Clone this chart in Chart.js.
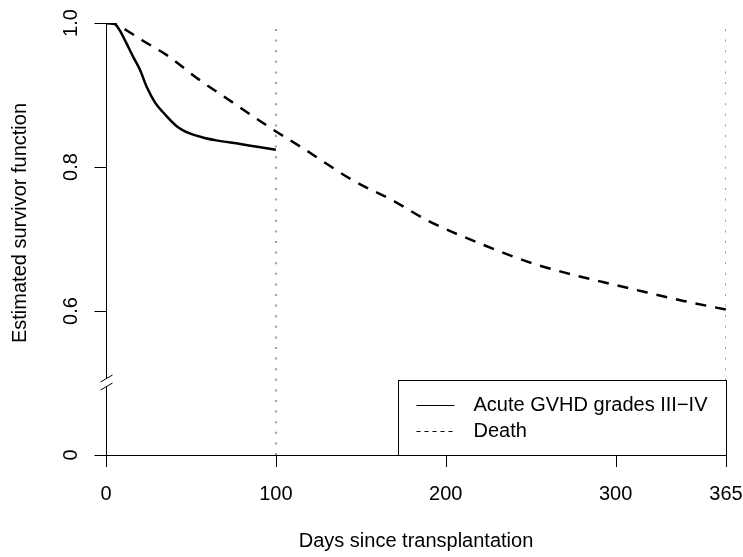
<!DOCTYPE html>
<html>
<head>
<meta charset="utf-8">
<script src="https://cdn.jsdelivr.net/npm/chart.js@4/dist/chart.umd.min.js"></script>
<style>
  html, body { margin: 0; padding: 0; background: #fff; }
  canvas { display: block; }
</style>
</head>
<body>
<canvas id="chart" width="743" height="557"></canvas>
<script>
// data
const gvhdDays = [0, 5, 8, 12, 16, 20, 24, 29, 34, 42, 49, 57, 65, 79, 89, 100];
const gvhdSurv = [1.0, 0.999, 0.990, 0.972, 0.953, 0.935, 0.911, 0.889, 0.875, 0.856, 0.847, 0.841, 0.837, 0.832, 0.828, 0.824];

const deathDays = [0, 6, 12, 22, 36, 55, 75, 97, 116, 145, 170, 189, 222, 250, 269, 300, 318, 340, 365];
const deathSurv = [1.0, 0.998, 0.990, 0.975, 0.955, 0.921, 0.889, 0.854, 0.826, 0.782, 0.752, 0.726, 0.692, 0.667, 0.654, 0.636, 0.626, 0.614, 0.602];

const refDays = [100, 365];
const refTop = 0.993;

const xTicks = [0, 100, 200, 300, 365];
const yTicks = [0.4, 0.6, 0.8, 1.0];
const yTickLabels = ["0", "0.6", "0.8", "1.0"];
const yBreak = 0.5;

const seriesLabels = ["Acute GVHD grades III\u2212IV", "Death"];
const xTitle = "Days since transplantation";
const yTitle = "Estimated survivor function";

const FONT = "20px 'Liberation Sans', Arial, sans-serif";

const toPts = (xs, ys) => xs.map((x, i) => ({ x: x, y: ys[i] }));

const refSets = refDays.map(d => ({
  label: "ref" + d,
  data: [{ x: d, y: yTicks[0] }, { x: d, y: refTop }],
  borderColor: "#9a9a9a",
  borderWidth: 2,
  borderDash: [2, 8.6],
  pointRadius: 0,
  fill: false
}));

// R style axes, break mark, titles and legend
const rAxes = {
  id: "rAxes",
  afterDraw(chart) {
    const ctx = chart.ctx;
    const xs = chart.scales.x, ys = chart.scales.y;
    const x0 = xs.getPixelForValue(xTicks[0]);
    const x1 = xs.getPixelForValue(xTicks[xTicks.length - 1]);
    const yb = ys.getPixelForValue(yTicks[0]);
    const yt = ys.getPixelForValue(yTicks[yTicks.length - 1]);
    const ybr = ys.getPixelForValue(yBreak);
    const tl = 12;

    ctx.save();
    ctx.strokeStyle = "#000";
    ctx.fillStyle = "#000";
    ctx.lineWidth = 1;

    // x axis
    ctx.beginPath();
    ctx.moveTo(x0, yb + 0.5);
    ctx.lineTo(x1, yb + 0.5);
    xTicks.forEach(v => {
      const px = Math.round(xs.getPixelForValue(v)) + 0.5;
      ctx.moveTo(px, yb);
      ctx.lineTo(px, yb + tl);
    });
    ctx.stroke();

    ctx.font = FONT;
    ctx.textAlign = "center";
    ctx.textBaseline = "middle";
    xTicks.forEach(v => ctx.fillText(String(v), xs.getPixelForValue(v), yb + 39));

    // y axis with a gap for the break
    const ax = Math.round(x0) + 0.5;
    ctx.beginPath();
    ctx.moveTo(ax, yt);
    ctx.lineTo(ax, ybr - 4);
    ctx.moveTo(ax, ybr + 4);
    ctx.lineTo(ax, yb + tl);
    yTicks.forEach(v => {
      const py = Math.round(ys.getPixelForValue(v)) + 0.5;
      ctx.moveTo(ax - tl, py);
      ctx.lineTo(ax, py);
    });
    ctx.stroke();

    // break slashes
    ctx.beginPath();
    ctx.moveTo(ax - 6, ybr - 1);
    ctx.lineTo(ax + 6, ybr - 8);
    ctx.moveTo(ax - 6, ybr + 7);
    ctx.lineTo(ax + 6, ybr);
    ctx.stroke();

    yTicks.forEach((v, i) => {
      ctx.save();
      ctx.translate(x0 - 35, ys.getPixelForValue(v));
      ctx.rotate(-Math.PI / 2);
      ctx.fillText(yTickLabels[i], 0, 0);
      ctx.restore();
    });

    // titles
    ctx.fillText(xTitle, (x0 + x1) / 2, 541);
    ctx.save();
    ctx.translate(20, 223);
    ctx.rotate(-Math.PI / 2);
    ctx.fillText(yTitle, 0, 0);
    ctx.restore();

    // legend box
    const lx = 398.5, ly = 380.5, lw = x1 - 398, lh = yb - 380;
    ctx.fillStyle = "#fff";
    ctx.fillRect(lx, ly, lw, lh);
    ctx.strokeRect(lx, ly, lw, lh);
    ctx.fillStyle = "#000";
    ctx.textAlign = "left";
    const ds = chart.data.datasets;
    [0, 1].forEach(i => {
      const yy = ly + 25 + i * 26;
      ctx.beginPath();
      ctx.lineWidth = 1.2;
      ctx.setLineDash(ds[i].borderDash && ds[i].borderDash.length ? [4, 4] : []);
      ctx.moveTo(lx + 18, yy);
      ctx.lineTo(lx + 56, yy);
      ctx.stroke();
      ctx.setLineDash([]);
      ctx.fillText(ds[i].label, lx + 75, yy);
    });
    ctx.restore();
  }
};

new Chart(document.getElementById("chart"), {
  type: "line",
  data: {
    datasets: [
      {
        label: seriesLabels[0],
        data: toPts(gvhdDays, gvhdSurv),
        borderColor: "#000",
        borderWidth: 2.5,
        borderDash: [],
        pointRadius: 0,
        cubicInterpolationMode: "monotone",
        fill: false
      },
      {
        label: seriesLabels[1],
        data: toPts(deathDays, deathSurv),
        borderColor: "#000",
        borderWidth: 2.5,
        borderDash: [11, 9],
        pointRadius: 0,
        cubicInterpolationMode: "monotone",
        fill: false
      }
    ].concat(refSets)
  },
  options: {
    responsive: false,
    animation: false,
    layout: { padding: { left: 106, right: 17, top: 23, bottom: 102 } },
    plugins: { legend: { display: false }, tooltip: { enabled: false } },
    scales: {
      x: { type: "linear", min: 0, max: 365, display: false },
      y: { type: "linear", min: 0.4, max: 1.0, display: false }
    }
  },
  plugins: [rAxes]
});
</script>
</body>
</html>
